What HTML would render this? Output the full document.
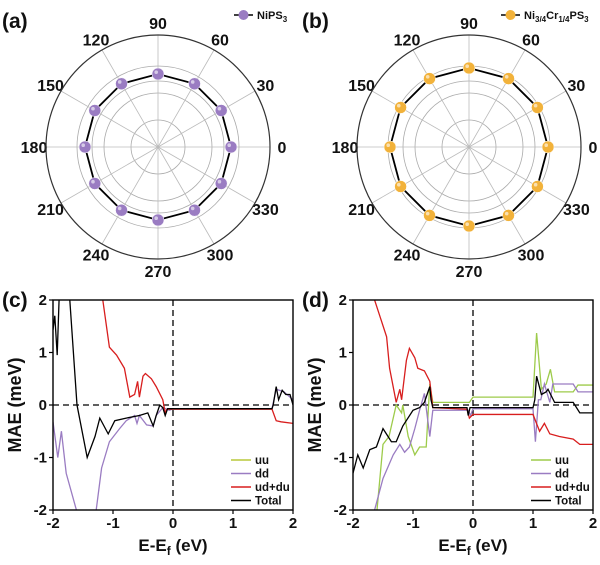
<!DOCTYPE html>
<html><head><meta charset="utf-8">
<style>
body{margin:0;background:#fff;}
svg text{font-family:"Liberation Sans",Arial,sans-serif;font-weight:bold;fill:#111;}
</style></head>
<body>
<svg id="fig" width="600" height="560" viewBox="0 0 600 560" xmlns="http://www.w3.org/2000/svg"></svg>
<script>
// ---- polar data ----
const angles = [0,30,60,90,120,150,180,210,240,270,300,330];
const maeA = [0.73,0.73,0.73,0.73,0.73,0.73,0.73,0.73,0.73,0.73,0.73,0.73];
const maeB = [0.79,0.79,0.79,0.79,0.79,0.79,0.79,0.79,0.79,0.79,0.79,0.79];
const ringValues = [0.27,0.54,0.66,0.81];
// ---- line-chart data (x in eV, y in meV) ----
const xTicks = [-2,-1,0,1,2];
const yTicks = [-2,-1,0,1,2];
const cTotalX = [-2,-1.97,-1.93,-1.89,-1.86,-1.72,-1.6,-1.43,-1.3,-1.22,-1.08,-0.97,-0.78,-0.56,-0.42,-0.33,-0.28,-0.22,-0.17,-0.13,-0.09,0,1.65,1.67,1.72,1.76,1.82,1.88,1.95,2];
const cTotalY = [1.43,1.7,0.95,2.3,2.3,2.0,0,-1.0,-0.6,-0.25,-0.55,-0.3,-0.25,-0.2,-0.15,-0.4,-0.2,0,-0.05,-0.2,-0.07,-0.07,-0.07,0,0.35,0.1,0.28,0.2,0.2,0];
const cRedX = [-1.17,-1.06,-0.94,-0.81,-0.72,-0.64,-0.59,-0.56,-0.5,-0.46,-0.36,-0.28,-0.17,-0.13,-0.1,0,1.65,1.72,1.8,2];
const cRedY = [2,1.1,0.95,0.7,0.15,0.2,0.45,0.15,0.55,0.6,0.5,0.35,0.1,-0.15,-0.08,-0.08,-0.08,-0.3,-0.32,-0.35];
const cDdX = [-2,-1.92,-1.86,-1.78,-1.61,-1.5,-1.4,-1.28,-1.19,-1.06,-0.89,-0.78,-0.64,-0.6,-0.56,-0.44,-0.33,-0.28,-0.17,-0.06,0,1.65,1.72,1.85,2];
const cDdY = [-0.32,-1.0,-0.5,-1.3,-2,-2.5,-2.5,-2,-1.2,-0.7,-0.45,-0.3,-0.2,-0.35,-0.2,-0.38,-0.4,-0.2,-0.05,-0.1,-0.07,-0.07,0.3,0.25,0.1];
const cUuX = [0,1.65];
const cUuY = [-0.07,-0.07];
const dTotalX = [-2,-1.92,-1.83,-1.72,-1.61,-1.5,-1.36,-1.28,-1.17,-1.0,-0.89,-0.81,-0.72,-0.7,-0.67,-0.1,-0.08,-0.05,0,1.0,1.03,1.06,1.14,1.22,1.25,1.36,1.67,1.78,2];
const dTotalY = [-1.3,-0.95,-1.2,-0.85,-0.8,-0.45,-0.7,-0.7,-0.4,-0.1,-0.05,0.05,0.35,0.1,-0.05,-0.05,-0.2,-0.05,-0.05,-0.05,0.1,0.55,0.2,0.25,0.3,0.05,0.05,-0.15,-0.15];
const dRedX = [-1.64,-1.44,-1.39,-1.28,-1.22,-1.19,-1.11,-1.06,-0.97,-0.92,-0.81,-0.72,-0.67,-0.1,-0.06,0,1.0,1.11,1.19,1.28,1.44,1.67,1.78,2];
const dRedY = [2,1.3,0.7,0.05,0.3,0.1,0.85,1.08,0.9,0.7,0.65,0.45,-0.05,-0.08,-0.25,-0.18,-0.18,-0.5,-0.35,-0.55,-0.6,-0.65,-0.75,-0.75];
const dUuX = [-1.6,-1.5,-1.4,-1.28,-1.19,-1.17,-1.08,-0.97,-0.89,-0.78,-0.72,-0.67,-0.06,0,1.0,1.06,1.14,1.22,1.29,1.36,1.67,1.75,2];
const dUuY = [-2,-0.75,-0.6,0,-0.15,0,-0.6,-0.95,-0.8,-0.8,0.4,0.05,0.05,0.15,0.15,1.37,0.3,0.4,0.68,0.25,0.25,0.38,0.38];
const dDdX = [-1.64,-1.5,-1.33,-1.22,-1.14,-1.06,-0.97,-0.89,-0.81,-0.72,-0.67,-0.08,-0.04,0,1.0,1.04,1.09,1.13,1.19,1.28,1.33,1.67,1.75,2];
const dDdY = [-2,-1.4,-0.95,-0.75,-0.9,-0.8,-0.45,-0.1,0.22,-0.6,-0.1,-0.1,-0.2,-0.07,-0.07,-0.7,0.1,0.1,0.4,0.05,0.4,0.4,0.25,0.25];

const NS="http://www.w3.org/2000/svg";
const svg=document.getElementById('fig');
function el(tag,attrs,parent){const e=document.createElementNS(NS,tag);for(const k in attrs)e.setAttribute(k,attrs[k]);(parent||svg).appendChild(e);return e;}
function txt(x,y,s,size,anchor,parent){const t=el('text',{x:x,y:y,'font-size':size,'text-anchor':anchor||'middle'},parent);t.textContent=s;return t;}

function polar(cx,cy,vals,color,panel,legendHtml,lx){
  const g=el('g',{});
  
  
  const R=112, scale=100;
  const rr=v=>v*scale;
  ringValues.forEach(v=>{const c=el('circle',{cx:cx,cy:cy,r:rr(v),fill:'none',stroke:'#aaa','stroke-width':0.8},g);
    });
  angles.forEach(a=>{const t=a*Math.PI/180;
    const l=el('line',{x1:cx,y1:cy,x2:cx+R*Math.cos(t),y2:cy-R*Math.sin(t),stroke:'#bbb','stroke-width':0.8},g);
    
    const lab=txt(cx+124*Math.cos(t),cy-124*Math.sin(t)+6,String(a),16,'middle',g);
    });
  const outer=el('circle',{cx:cx,cy:cy,r:R,fill:'none',stroke:'#333','stroke-width':1.2},g);
  
  const pts=angles.map((a,i)=>{const t=a*Math.PI/180;return [cx+rr(vals[i])*Math.cos(t),cy-rr(vals[i])*Math.sin(t)];});
  const poly=el('polygon',{points:pts.map(p=>p.join(',')).join(' '),fill:'none',stroke:'#000','stroke-width':1.8},g);
  
  pts.forEach(p=>{const c=el('circle',{cx:p[0],cy:p[1],r:6,fill:color,stroke:'#fff','stroke-width':0.5},g);
    
    el('circle',{cx:p[0]-1.8,cy:p[1]-1.8,r:1.8,fill:'#fff','fill-opacity':0.6},g);});
  const lg=el('g',{},g);
  
  el('line',{x1:lx,y1:15,x2:lx+19,y2:15,stroke:'#000','stroke-width':1.5},lg);
  el('circle',{cx:lx+9.5,cy:15,r:5,fill:color},lg);
  const t=el('text',{x:lx+23,y:19,'font-size':11},lg);t.innerHTML=legendHtml;
}
polar(158,147,maeA,'#9a7cc2','a','NiPS<tspan font-size="8" dy="3">3</tspan>',234);
polar(469,147,maeB,'#f2b23a','b','Ni<tspan font-size="8" dy="3">3/4</tspan><tspan dy="-3">Cr</tspan><tspan font-size="8" dy="3">1/4</tspan><tspan dy="-3">PS</tspan><tspan font-size="8" dy="3">3</tspan>',501);
[['(a)',2,28],['(b)',302,28],['(c)',2,307],['(d)',302,307]].forEach(p=>{const t=txt(p[1],p[2],p[0],21,'start');});

function lineChart(ox,panel,series){
  const g=el('g',{});
  
  
  const x0=ox, x1=ox+240, yT=300, yB=510;
  const X=v=>x0+(v+2)/4*(x1-x0), Y=v=>yB-(v+2)/4*(yB-yT);
  const cid='clip'+panel;
  const cp=el('clipPath',{id:cid},g);el('rect',{x:x0,y:yT,width:x1-x0,height:yB-yT},cp);
  const h=el('line',{x1:x0,y1:Y(0),x2:x1,y2:Y(0),stroke:'#000','stroke-width':1.3,'stroke-dasharray':'6,4'},g);
  
  const v=el('line',{x1:X(0),y1:yT,x2:X(0),y2:yB,stroke:'#000','stroke-width':1.3,'stroke-dasharray':'6,4'},g);
  
  const sg=el('g',{'clip-path':'url(#'+cid+')'},g);
  series.forEach(s=>{const p=el('polyline',{points:s.x.map((xv,i)=>X(xv)+','+Y(s.y[i])).join(' '),fill:'none',stroke:s.c,'stroke-width':1.3},sg);
    });
  const f=el('rect',{x:x0,y:yT,width:x1-x0,height:yB-yT,fill:'none',stroke:'#000','stroke-width':1.4},g);
  
  xTicks.forEach(t=>{el('line',{x1:X(t),y1:yB,x2:X(t),y2:yB+4,stroke:'#000','stroke-width':1.2},g);
    const l=txt(X(t),yB+18,String(t),15,'middle',g);});
  yTicks.forEach(t=>{el('line',{x1:x0-4,y1:Y(t),x2:x0,y2:Y(t),stroke:'#000','stroke-width':1.2},g);
    const l=txt(x0-6,Y(t)+5,String(t),15,'end',g);});
  const xl=el('text',{x:(x0+x1)/2,y:551,'font-size':17,'text-anchor':'middle'},g);
  xl.innerHTML='E-E<tspan font-size="12" dy="4">f</tspan><tspan dy="-4"> (eV)</tspan>';
  
  const yl=el('text',{x:0,y:0,'font-size':18,'text-anchor':'middle',transform:'translate('+(ox-32)+',405) rotate(-90)'},g);
  yl.textContent='MAE (meV)';
  const lg=el('g',{},g);
  series.slice().sort((a,b)=>a.o-b.o).forEach((s,i)=>{const yy=460+i*13.5;
    const e=el('g',{},lg);
    el('line',{x1:x0+178,y1:yy,x2:x0+198,y2:yy,stroke:s.c,'stroke-width':1.5},e);
    txt(x0+202,yy+4,s.label,11.5,'start',e);});
}
lineChart(53,'c',[
  {n:'uu',label:'uu',c:'#b9c93a',x:cUuX,y:cUuY,o:0},
  {n:'dd',label:'dd',c:'#9a7cc2',x:cDdX,y:cDdY,o:1},
  {n:'ud-du',label:'ud+du',c:'#d81e1e',x:cRedX,y:cRedY,o:2},
  {n:'total',label:'Total',c:'#000',x:cTotalX,y:cTotalY,o:3}]);
lineChart(353,'d',[
  {n:'uu',label:'uu',c:'#9dcb4a',x:dUuX,y:dUuY,o:0},
  {n:'dd',label:'dd',c:'#9a7cc2',x:dDdX,y:dDdY,o:1},
  {n:'ud-du',label:'ud+du',c:'#d81e1e',x:dRedX,y:dRedY,o:2},
  {n:'total',label:'Total',c:'#000',x:dTotalX,y:dTotalY,o:3}]);
</script>
</body></html>
